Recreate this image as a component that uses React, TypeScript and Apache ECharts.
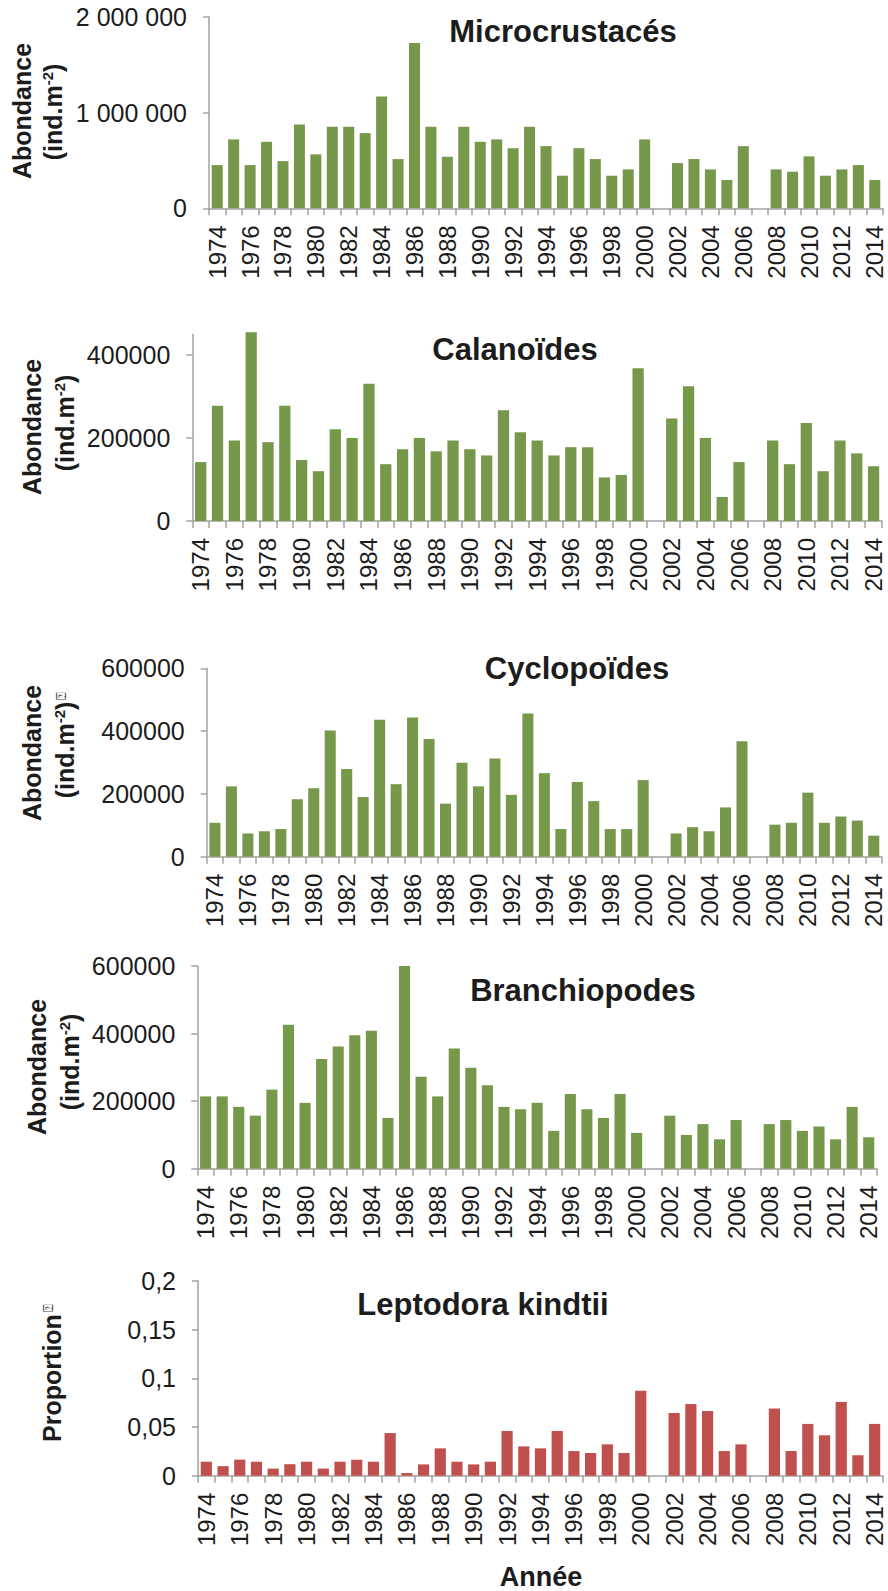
import React, { useEffect, useRef } from "react";
import * as echarts from "echarts";

// Years on the shared category axis
const years: string[] = [];
for (let y = 1974; y <= 2014; y++) years.push(String(y));

// Abundances (ind.m-2); null = no sample that year
const microcrustaces = [
  451000, 719000, 451000, 694000, 493000, 875000, 563000, 851000, 851000, 785000,
  1167000, 514000, 1726000, 851000, 538000, 851000, 694000, 719000, 628000, 851000,
  649000, 340000, 628000, 514000, 340000, 406000, 719000, null, 472000, 514000,
  406000, 295000, 649000, null, 406000, 382000, 542000, 340000, 406000, 451000, 295000,
];
const calanoides = [
  142000, 278000, 194000, 455000, 190000, 278000, 147000, 120000, 221000, 200000,
  331000, 137000, 173000, 200000, 168000, 194000, 173000, 158000, 267000, 214000,
  194000, 158000, 178000, 178000, 105000, 111000, 368000, null, 247000, 325000,
  200000, 58000, 142000, null, 194000, 137000, 236000, 120000, 194000, 163000, 132000,
];
const cyclopoides = [
  108000, 224000, 74000, 81000, 88000, 183000, 218000, 402000, 279000, 190000,
  436000, 231000, 443000, 375000, 169000, 299000, 224000, 313000, 197000, 456000,
  266000, 88000, 238000, 177000, 88000, 88000, 244000, null, 74000, 94000,
  81000, 157000, 368000, null, 102000, 108000, 204000, 108000, 128000, 115000, 67000,
];
const branchiopodes = [
  214000, 214000, 183000, 157000, 234000, 426000, 195000, 325000, 362000, 395000,
  408000, 150000, 600000, 272000, 214000, 356000, 299000, 247000, 183000, 176000,
  195000, 112000, 221000, 176000, 150000, 221000, 106000, null, 157000, 100000,
  132000, 87000, 144000, null, 132000, 144000, 112000, 125000, 87000, 183000, 93000,
];
// Proportion of Leptodora kindtii
const leptodora = [
  0.0144, 0.0098, 0.0165, 0.0144, 0.0073, 0.0118, 0.0144, 0.0073, 0.0144, 0.0164,
  0.0144, 0.0438, 0.0027, 0.0116, 0.0281, 0.0144, 0.0116, 0.0144, 0.0459, 0.0301,
  0.0281, 0.0459, 0.0253, 0.0233, 0.0322, 0.0233, 0.0873, null, 0.0644, 0.0736,
  0.0664, 0.0253, 0.0322, null, 0.069, 0.0254, 0.0532, 0.0415, 0.0758, 0.021, 0.0532,
];

// Value-axis ticks and their printed labels
const microTicks = [0, 1000000, 2000000];
const microTickLabels = ["0", "1 000 000", "2 000 000"];
const calaTicks = [0, 200000, 400000];
const calaTickLabels = ["0", "200000", "400000"];
const cycloTicks = [0, 200000, 400000, 600000];
const cycloTickLabels = ["0", "200000", "400000", "600000"];
const branchioTicks = [0, 200000, 400000, 600000];
const branchioTickLabels = ["0", "200000", "400000", "600000"];
const leptoTicks = [0, 0.05, 0.1, 0.15, 0.2];
const leptoTickLabels = ["0", "0,05", "0,1", "0,15", "0,2"];

const titles = ["Microcrustacés", "Calanoïdes", "Cyclopoïdes", "Branchiopodes", "Leptodora kindtii"];

const FONT = '"Liberation Sans", Arial, Helvetica, sans-serif';
const TEXT = "#1c1c1c";
const AXIS = "#a2a2a2";
const GREEN = "#76984a";
const RED = "#c0504d";

const panels = [
  { data: microcrustaces, ticks: microTicks, labels: microTickLabels, max: 2000000, color: GREEN,
    grid: { left: 209, top: 16.7, width: 674, height: 191.6 }, title: [563, 31], clip: true },
  { data: calanoides, ticks: calaTicks, labels: calaTickLabels, max: 450000, color: GREEN,
    grid: { left: 192.3, top: 334.3, width: 689.7, height: 186.7 }, title: [515, 349], clip: false },
  { data: cyclopoides, ticks: cycloTicks, labels: cycloTickLabels, max: 600000, color: GREEN,
    grid: { left: 206.7, top: 668.3, width: 675.3, height: 188.4 }, title: [577, 668], clip: true },
  { data: branchiopodes, ticks: branchioTicks, labels: branchioTickLabels, max: 600000, color: GREEN,
    grid: { left: 197.3, top: 966, width: 679.7, height: 202.7 }, title: [583, 990], clip: true },
  { data: leptodora, ticks: leptoTicks, labels: leptoTickLabels, max: 0.2, color: RED,
    grid: { left: 198, top: 1281, width: 685, height: 194.7 }, title: [483, 1304], clip: true },
];

const nameRich = {
  n: { fontSize: 25, fontWeight: "bold", fontFamily: FONT, fill: TEXT },
  s: { fontSize: 15, fontWeight: "bold", fontFamily: FONT, fill: TEXT, padding: [0, 0, 11, 0] },
  q: { fontSize: 13, fontWeight: "normal", fontFamily: '"DejaVu Sans", sans-serif', fill: "#444", padding: [0, 0, 8, 2] },
};

function vText(x: number, y: number, text: string) {
  return {
    type: "text",
    x,
    y,
    rotation: Math.PI / 2,
    silent: true,
    style: { text, rich: nameRich, align: "center", verticalAlign: "middle", fill: TEXT, font: `bold 25px ${FONT}` },
  };
}

export default function App() {
  const ref = useRef<HTMLDivElement>(null);

  useEffect(() => {
    if (!ref.current) return;
    const chart = echarts.init(ref.current, undefined, { renderer: "svg" });

    const axisLine = { show: true, lineStyle: { color: AXIS, width: 1.5 } };

    const option: any = {
      animation: false,
      backgroundColor: "#ffffff",
      grid: panels.map((p) => ({ ...p.grid, containLabel: false })),
      xAxis: panels.map((p, i) => ({
        type: "category",
        gridIndex: i,
        data: years,
        boundaryGap: true,
        axisLine,
        axisTick: { show: true, interval: 0, length: 7, lineStyle: { color: AXIS, width: 1.5 } },
        axisLabel: {
          interval: 1,
          rotate: 90,
          fontSize: 24,
          fontFamily: FONT,
          color: TEXT,
          margin: 17,
          padding: [6, 0, 0, 0],
        },
        splitLine: { show: false },
      })),
      yAxis: panels.map((p, i) => ({
        type: "value",
        gridIndex: i,
        min: 0,
        max: p.max,
        axisLine,
        axisTick: { show: true, length: 6, lineStyle: { color: AXIS, width: 1.5 }, customValues: p.ticks },
        axisLabel: {
          fontSize: 25,
          fontFamily: FONT,
          color: TEXT,
          margin: 22,
          padding: [5, 0, 0, 0],
          customValues: p.ticks,
          formatter: (v: number) => {
            let best = 0;
            p.ticks.forEach((t, k) => {
              if (Math.abs(t - v) < Math.abs(p.ticks[best] - v)) best = k;
            });
            return p.labels[best];
          },
        },
        splitLine: { show: false },
      })),
      series: panels.map((p, i) => ({
        type: "bar",
        xAxisIndex: i,
        yAxisIndex: i,
        data: p.data,
        barCategoryGap: "33%",
        clip: p.clip,
        itemStyle: { color: p.color },
      })),
      graphic: [
        ...panels.map((p, i) => ({
          type: "text",
          x: p.title[0],
          y: p.title[1],
          silent: true,
          style: {
            text: titles[i],
            fill: TEXT,
            font: `bold 31px ${FONT}`,
            align: "center",
            verticalAlign: "middle",
          },
        })),
        vText(22, 111, "{n|Abondance}"),
        vText(53, 112, "{n|(ind.m}{s|-2}{n|)}"),
        vText(32, 427, "{n|Abondance}"),
        vText(65, 423, "{n|(ind.m}{s|-2}{n|)}"),
        vText(32, 753, "{n|Abondance}"),
        vText(65, 745, "{n|(ind.m}{s|-2}{n|)}{q|⍰}"),
        vText(37, 1067, "{n|Abondance}"),
        vText(70, 1062, "{n|(ind.m}{s|-2}{n|)}"),
        vText(52, 1373, "{n|Proportion}{q|⍰}"),
        {
          type: "text",
          x: 541,
          y: 1590,
          silent: true,
          style: { text: "Année", fill: TEXT, font: `bold 27px ${FONT}`, align: "center", verticalAlign: "bottom" },
        },
      ],
    };

    chart.setOption(option);
    return () => chart.dispose();
  }, []);

  return (
    <div
      ref={ref}
      style={{ position: "absolute", left: 0, top: 0, width: 888, height: 1591, background: "#fff" }}
    />
  );
}
